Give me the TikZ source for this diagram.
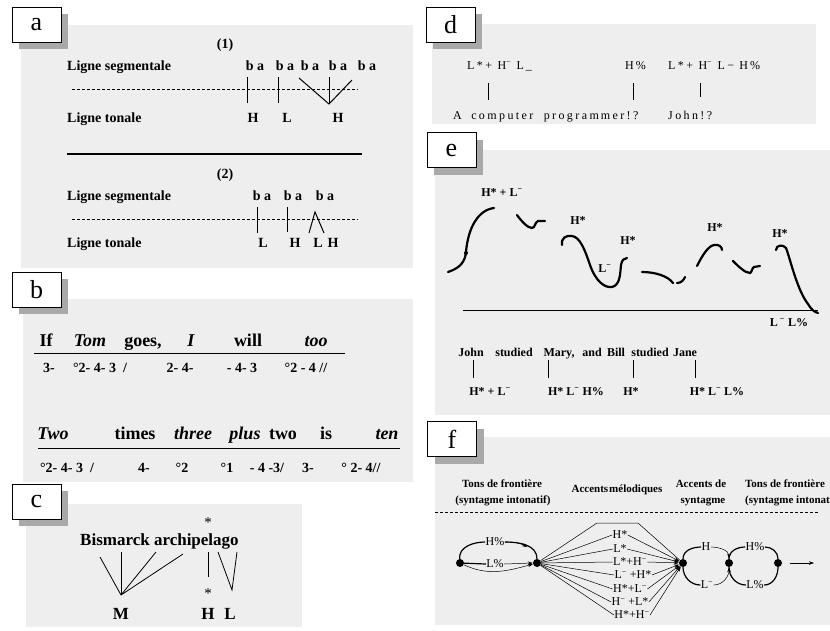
\documentclass[tikz,border=0pt]{standalone}
\usepackage{fontspec}
\setmainfont{Liberation Serif}
\newfontfamily\spacedserif[LetterSpace=20]{Liberation Serif}
\usetikzlibrary{arrows.meta,shadows}
\definecolor{panelgrey}{HTML}{EEEEEE}
\definecolor{shadowgrey}{HTML}{A9A9A9}
\newcommand{\supmin}{\textsuperscript{\char"2212}}
\begin{document}
\begin{tikzpicture}[x=1pt,y=-1pt,
  panel/.style={fill=panelgrey},
  lbox/.style={draw=black, fill=white, line width=0.8pt, minimum width=49pt, minimum height=35pt, inner sep=0pt,
    font=\fontsize{26}{26}\selectfont,
    drop shadow={shadow xshift=7pt,shadow yshift=-7pt,fill=shadowgrey,opacity=1}},
  ta/.style={font=\bfseries\fontsize{14}{16}\selectfont, inner sep=0pt, anchor=base},
  tb/.style={font=\bfseries\fontsize{18}{20}\selectfont, inner sep=0pt, anchor=base},
  tbi/.style={font=\bfseries\itshape\fontsize{18}{20}\selectfont, inner sep=0pt, anchor=base},
  tn/.style={font=\bfseries\fontsize{14}{16}\selectfont, inner sep=0pt, anchor=base},
  tc/.style={font=\bfseries\fontsize{17}{19}\selectfont, inner sep=0pt, anchor=base},
  star/.style={font=\fontsize{15}{15}\selectfont, inner sep=0pt},
  td/.style={font=\spacedserif\fontsize{12}{14}\selectfont, inner sep=0pt, anchor=base west},
  te/.style={font=\bfseries\fontsize{12}{14}\selectfont, inner sep=0pt, anchor=base},
  tfh/.style={font=\bfseries\fontsize{11}{13}\selectfont, inner sep=0pt, anchor=base},
  tfl/.style={font=\fontsize{12}{13}\selectfont, inner sep=0.3pt, fill=panelgrey},
  stroke/.style={line width=1pt},
  curve/.style={line width=2.2pt, line cap=round},
  arc/.style={line width=1.2pt},
  arr/.style={line width=0.5pt, -{Stealth[length=5pt,width=3.5pt]}},
  dot/.style={circle, fill=black, inner sep=0pt, minimum size=8pt}]
\useasboundingbox (0,0) rectangle (830,630);
\clip (0,0) rectangle (830,630);
\fill[white] (0,0) rectangle (830,630);

% ---------------- panel backgrounds
\fill[panel] (21,25) rectangle (413,268);
\fill[panel] (23,299) rectangle (413,482);
\fill[panel] (26,504) rectangle (302,627);
\fill[panel] (432,24) rectangle (816,124);
\fill[panel] (435,150) rectangle (830,415);
\fill[panel] (435,437) rectangle (830,625);

% ---------------- labels
\node[lbox] (la) at (36.5,24.5) {a};
\node[lbox] (lb) at (36.5,289.5) {b};
\node[lbox] (lc) at (36.5,501.5) {c};
\node[lbox] (ld) at (450.5,24.5) {d};
\node[lbox] (le) at (451.5,150) {e};
\node[lbox] (lf) at (452,439) {f};

% ---------------- panel a
\node[ta] (a1) at (225,48) {(1)};
\node[ta,anchor=base west] (aseg1) at (67,70) {Ligne segmentale};
\foreach \x/\n in {255/1,285/2,310/3,338/4,367/5} \node[ta] (aba\n) at (\x,70) {b a};
\draw[dash pattern=on 3pt off 2pt, line width=0.7pt] (72,89) -- (358,89);
\draw[stroke] (247,77) -- (247,103);
\draw[stroke] (278,77) -- (278,103);
\draw[stroke] (299,78) -- (329,104) -- (352,80);
\draw[stroke] (329,77) -- (329,104);
\node[ta,anchor=base west] (aton1) at (67,122) {Ligne tonale};
\node[ta] (aH1) at (253,122) {H};
\node[ta] (aL1) at (287,122) {L};
\node[ta] (aH2) at (338,122) {H};
\draw[line width=1.2pt] (67,154) -- (362,154);
\node[ta] (a2) at (225,178) {(2)};
\node[ta,anchor=base west] (aseg2) at (67,200) {Ligne segmentale};
\foreach \x/\n in {262/6,293/7,325/8} \node[ta] (aba\n) at (\x,200) {b a};
\draw[dash pattern=on 3pt off 2pt, line width=0.7pt] (72,219) -- (358,219);
\draw[stroke] (257,207) -- (257,233);
\draw[stroke] (287,207) -- (287,232);
\draw[stroke] (309,233) -- (315,212) -- (324,233);
\node[ta,anchor=base west] (aton2) at (67,247) {Ligne tonale};
\node[ta] (aL2) at (263,247) {L};
\node[ta] (aH3) at (295,247) {H};
\node[ta] (aL3) at (318,247) {L};
\node[ta] (aH4) at (333,247) {H};

% ---------------- panel b
\node[tb]  (b1) at (46,346) {If};
\node[tbi] (b2) at (90,346) {Tom};
\node[tb]  (b3) at (143,346) {goes,};
\node[tbi] (b4) at (191,346) {I};
\node[tb]  (b5) at (248,346) {will};
\node[tbi] (b6) at (316,346) {too};
\draw[line width=1pt] (34,353) -- (345,353);
\node[tn] (bn1) at (49,372) {3-};
\node[tn] (bn2) at (100,372) {°2- 4- 3 \ /};
\node[tn] (bn3) at (180,372) {2- 4-};
\node[tn] (bn4) at (242,372) {- 4- 3};
\node[tn] (bn5) at (306,372) {°2 - 4 //};
\node[tbi] (b7) at (53,439) {Two};
\node[tb]  (b8) at (135,439) {times};
\node[tbi] (b9) at (193,439) {three};
\node[tbi] (b10) at (245,439) {plus};
\node[tb]  (b11) at (283,439) {two};
\node[tb]  (b12) at (326,439) {is};
\node[tbi] (b13) at (387,439) {ten};
\draw[line width=1pt] (38,448) -- (400,448);
\node[tn] (bm1) at (67,472) {°2- 4- 3 \ /};
\node[tn] (bm2) at (144,472) {4-};
\node[tn] (bm3) at (182,472) {°2};
\node[tn] (bm4) at (227,472) {°1};
\node[tn] (bm5) at (267,472) {- 4 -3/};
\node[tn] (bm6) at (308,472) {3-};
\node[tn] (bm7) at (361,472) {° 2- 4//};

% ---------------- panel c
\node[star] (cs1) at (208,523) {*};
\node[tc,anchor=base west] (cw) at (80,545) {Bismarck archipelago};
\coordinate (cM) at (121,595);
\draw[line width=0.8pt] (100,557) -- (cM);
\draw[line width=0.8pt] (121,552) -- (cM);
\draw[line width=0.8pt] (156,552) -- (cM);
\draw[line width=0.8pt] (183,554) -- (cM);
\draw[line width=0.8pt] (208,552) -- (208,577);
\draw[line width=0.8pt] (218,552) -- (232,590) -- (237,552);
\node[star] (cs2) at (208,594) {*};
\node[tc] (cMl) at (121,619) {M};
\node[tc] (cH) at (208,619) {H};
\node[tc] (cL) at (230,619) {L};

% ---------------- panel d
\node[td] (d1) at (467,69) {L*+ H\supmin\ L\,\_};
\node[td] (d2) at (625,69) {H\,\%};
\node[td] (d3) at (668,69) {L*+ H\supmin\ L\char"2212\ H\,\%};
\draw[line width=0.8pt] (488,83) -- (488,100);
\draw[line width=0.8pt] (633,83) -- (633,100);
\draw[line width=0.8pt] (700,83) -- (700,97);
\node[td] (d4) at (453,119) {A\hspace{4pt} computer\hspace{5pt} program\hspace{2pt}mer!?};
\node[td] (d5) at (668,119) {John!?};

% ---------------- panel e
\node[te] (e1) at (502,196) {H* + L\supmin};
\draw[curve] (448,272) .. controls (460,268) and (465,262) .. (466,252) .. controls (468,228) and (478,210) .. (494,208);
\fill (466,253) circle (2pt);
\draw[curve] (517,215) .. controls (522,222) and (528,228) .. (532,228) .. controls (535,228) and (535,222) .. (538,221) -- (545,221);
\node[te] (e2) at (578,224) {H*};
\draw[curve] (562,245) .. controls (561,238) and (566,235) .. (572,236) .. controls (580,237) and (585,250) .. (590,265) .. controls (596,282) and (605,288) .. (612,287) .. controls (620,285) and (620,275) .. (621,265) .. controls (622,260) and (624,258) .. (627,258);
\node[te] (e3) at (605,272) {L\supmin};
\node[te] (e4) at (628,244) {H*};
\draw[curve] (642,272) .. controls (655,272) and (668,276) .. (673,283);
\draw[curve] (677,283) .. controls (681,283) and (684,280) .. (685,277);
\node[te] (e5) at (715,231) {H*};
\draw[curve] (697,266) .. controls (702,256) and (708,246) .. (714,245) .. controls (719,244) and (722,247) .. (722,250);
\draw[curve] (733,261) .. controls (738,266) and (745,273) .. (750,273) .. controls (752,272) and (752,268) .. (754,267) -- (760,266);
\node[te] (e6) at (780,237) {H*};
\draw[curve] (776,250) .. controls (776,245) and (783,244) .. (786,248) .. controls (790,258) and (797,290) .. (808,304) .. controls (811,309) and (814,312) .. (818,313);
\draw[line width=1pt] (463,310) -- (818,310);
\node[te] (e7) at (789,326) {L\,\supmin\ L\%};
\node[te] (ew1) at (471,356) {John};
\node[te] (ew2) at (514,356) {studied};
\node[te] (ew3) at (559,356) {Mary,};
\node[te] (ew4) at (592,356) {and};
\node[te] (ew5) at (616,356) {Bill};
\node[te] (ew6) at (650,356) {studied};
\node[te] (ew7) at (685,356) {Jane};
\draw[line width=0.8pt] (473,360) -- (473,378);
\draw[line width=0.8pt] (548,360) -- (548,378);
\draw[line width=0.8pt] (633,360) -- (633,378);
\draw[line width=0.8pt] (695,360) -- (695,378);
\node[te] (et1) at (490,395) {H* + L\supmin};
\node[te] (et2) at (576,395) {H* L\supmin\ H\%};
\node[te] (et3) at (631,395) {H*};
\node[te] (et4) at (717,395) {H* L\supmin\ L\%};

% ---------------- panel f
\node[tfh] (fh1) at (502,487) {Tons de frontière};
\node[tfh] (fh2) at (503,503) {(syntagme intonatif)};
\node[tfh] (fh3) at (617,492) {Accents\hspace{1pt}mélodiques};
\node[tfh] (fh4) at (701,487) {Accents de};
\node[tfh] (fh5) at (703,503) {syntagme};
\node[tfh] (fh6) at (785,487) {Tons de frontière};
\node[tfh,anchor=base west] (fh7) at (745,503) {(syntagme intonatif)};
\draw[dash pattern=on 3pt off 2pt, line width=0.7pt] (435,512) -- (818,512);

\node[dot] (f1) at (460,563) {};
\node[dot] (f2) at (537,563) {};
\node[dot] (f3) at (683,563) {};
\node[dot] (f4) at (729,563) {};
\node[dot] (f5) at (778,563) {};

% f1 -> f2
\node[tfl] (fHp) at (495,542) {H\%};
\draw[arc] (f1) to[out=95,in=180] (fHp.west);
\draw[arc] (fHp.east) to[out=0,in=90] (f2);
\draw[arr] (fHp.east) to[out=0,in=150] (527,547);
\node[tfl] (fLp) at (495,564) {L\%};
\draw[arc] (f1) -- (fLp.west);
\draw[arr] (fLp.east) -- (f2.west);
\draw[arr] (f1) to[out=-25,in=-165] (f2);

% fan f2 -> f3
\coordinate (ftl) at (597,523);
\coordinate (ftr) at (638,523);
\draw[line width=0.5pt] (f2) -- (ftl) -- (ftr) -- (f3);
\foreach \n/\x/\y/\t in {1/620/535/{H*},2/620/549/{L*},3/630/562/{L*+H\supmin},4/633/575/{L\supmin\ +H*},5/630/589/{H*+L\supmin},6/630/602/{H\supmin\ +L*},7/632/615/{H*+H\supmin}}{
  \node[tfl] (fm\n) at (\x,\y) {\t};
  \draw[line width=0.5pt] (f2) -- (fm\n.west);
  \draw[arr] (fm\n.east) -- (f3);
}

% f3 -> f4
\node[tfl] (fH) at (706,547) {H};
\draw[arc] (f3) to[out=90,in=180] (fH.west);
\draw[arr] (fH.east) to[out=0,in=90] (f4);
\node[tfl] (fL) at (707,585) {L\supmin};
\draw[arc] (f3) to[out=-90,in=180] (fL.west);
\draw[arr] (fL.east) to[out=0,in=-90] (f4);

% f4 -> f5
\node[tfl] (fH2) at (755,547) {H\%};
\draw[arc] (f4) to[out=90,in=180] (fH2.west);
\draw[arc] (fH2.east) to[out=0,in=90] (f5);
\node[tfl] (fL2) at (755,585) {L\%};
\draw[arc] (f4) to[out=-90,in=180] (fL2.west);
\draw[arc] (fL2.east) to[out=0,in=-90] (f5);

\coordinate (fs) at (790,563);
\coordinate (fe) at (814,563);
\draw[arr] (fs) -- (fe);
\end{tikzpicture}
\end{document}
